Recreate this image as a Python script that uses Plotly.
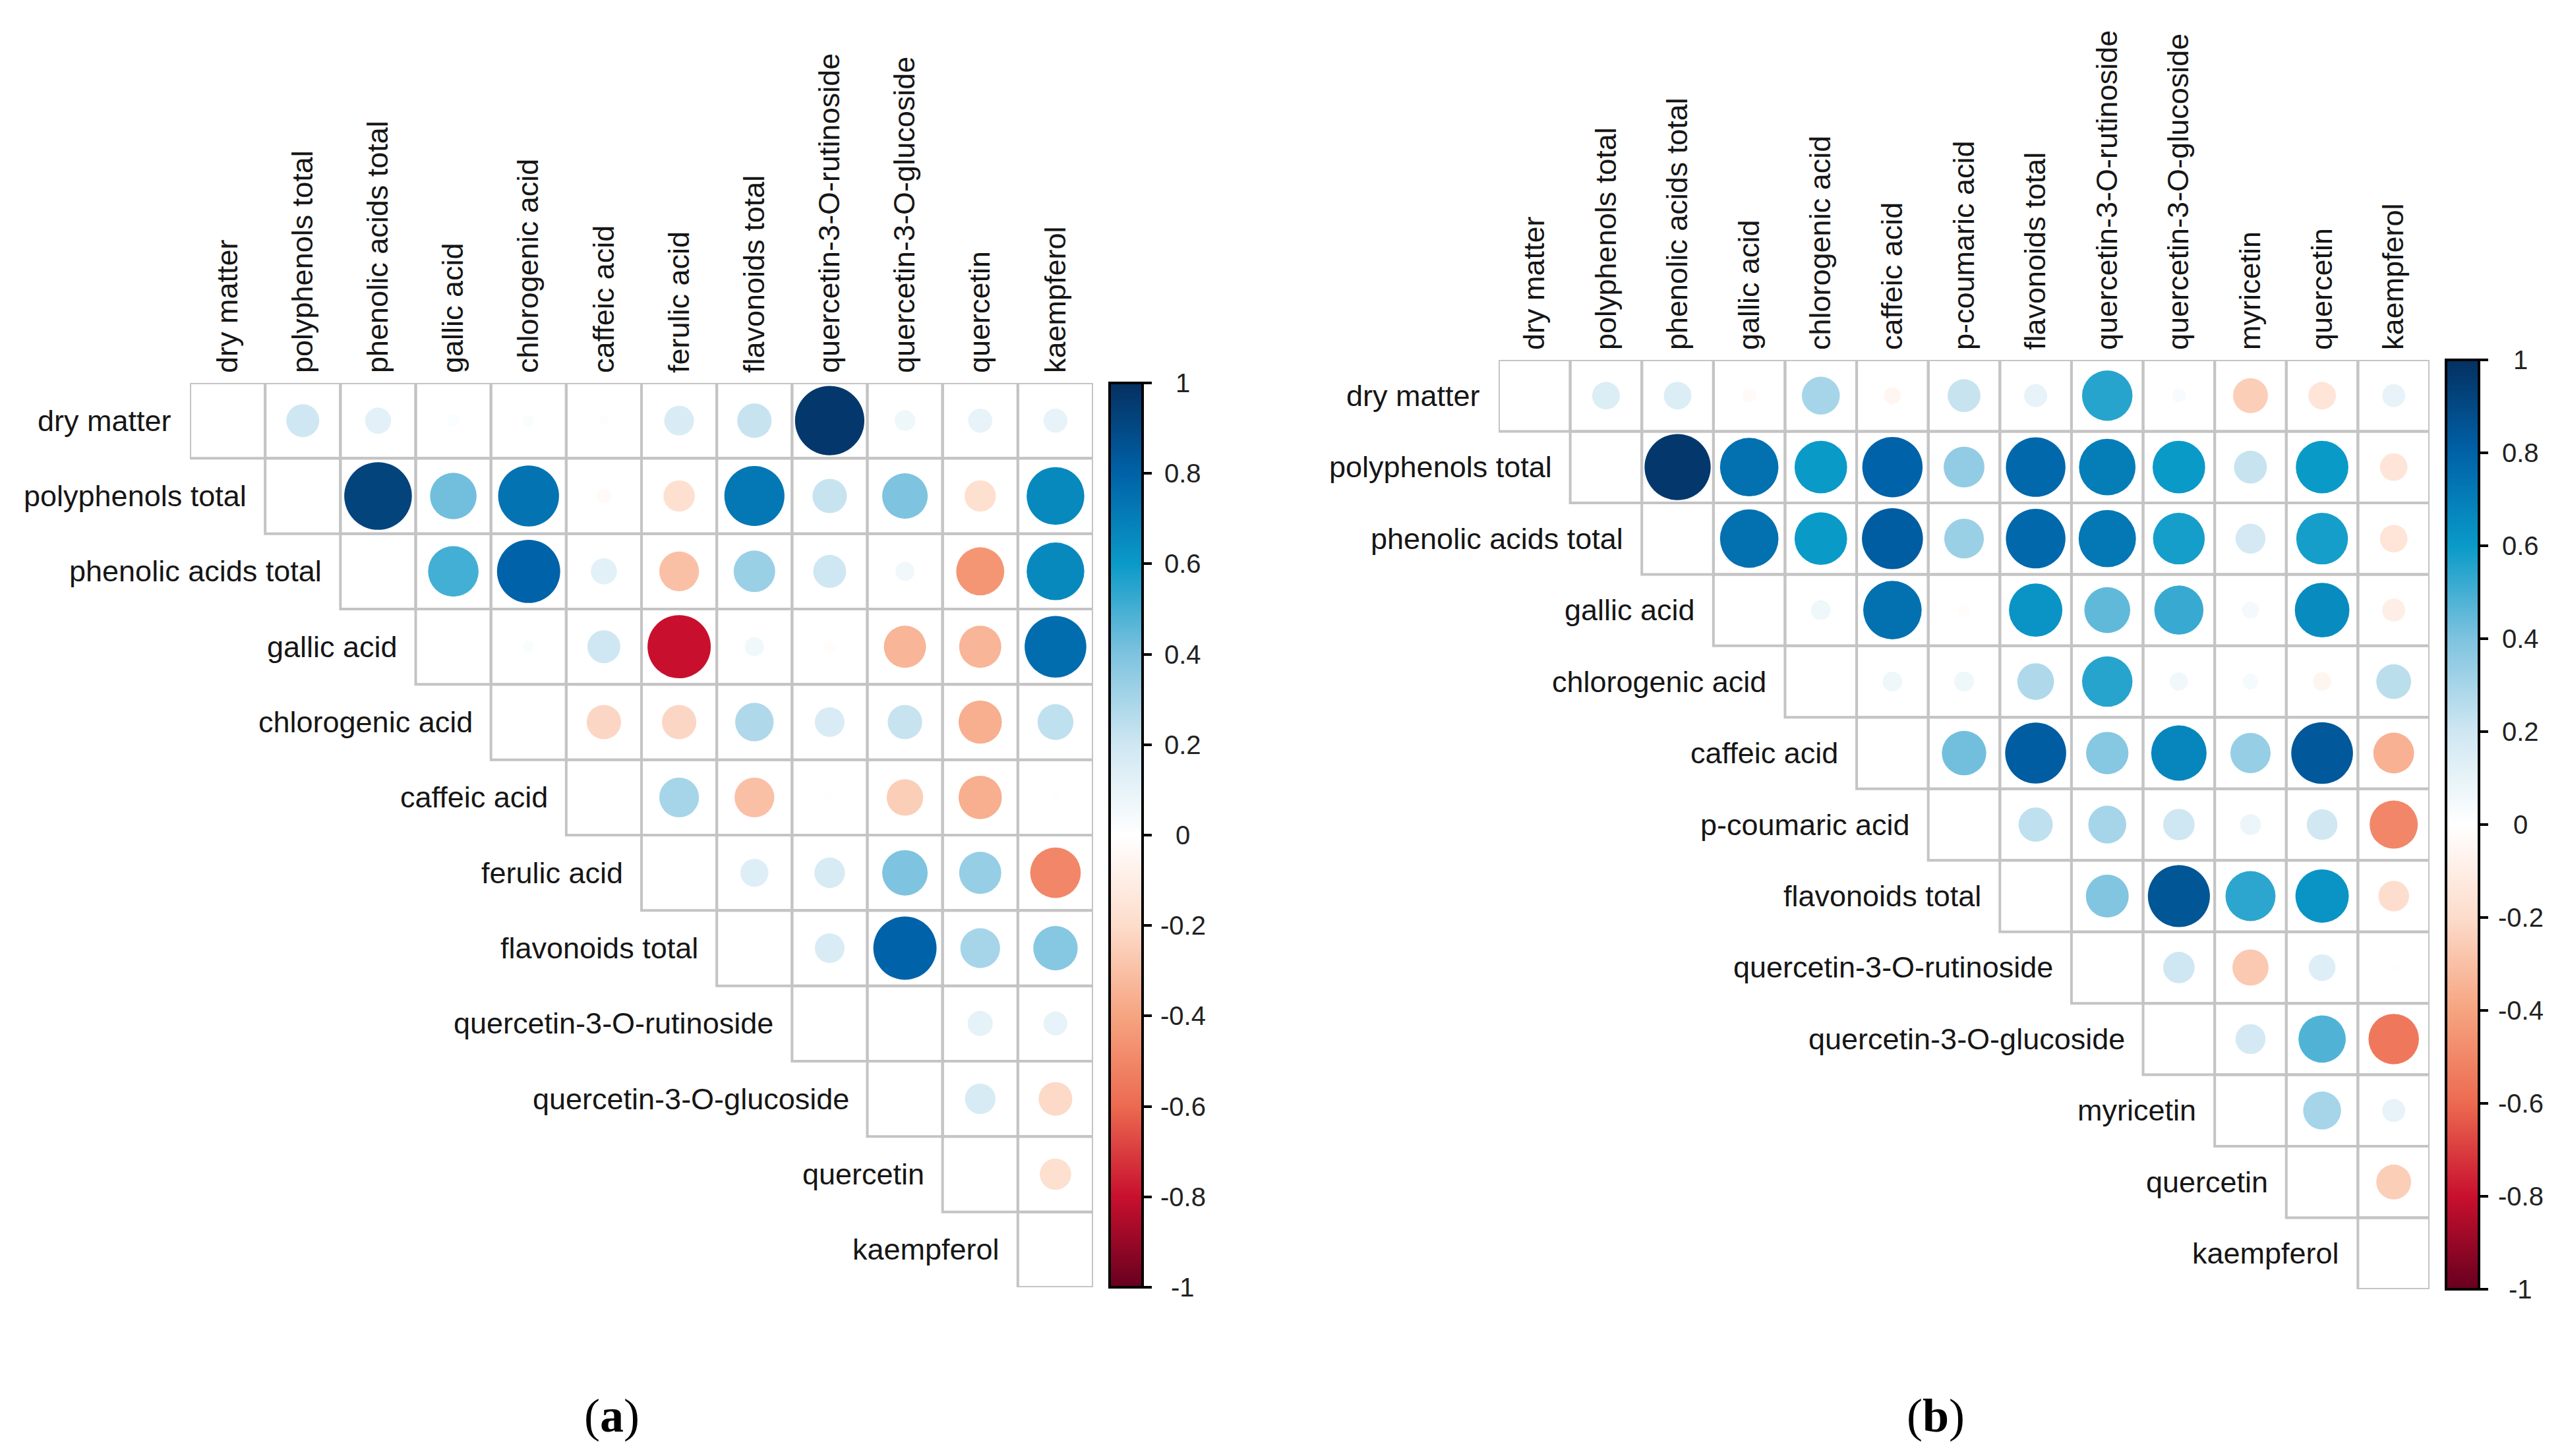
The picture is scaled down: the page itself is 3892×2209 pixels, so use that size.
import plotly.graph_objects as go
import math

# ---------------- data ----------------
names_a = ["dry matter", "polyphenols total", "phenolic acids total", "gallic acid",
           "chlorogenic acid", "caffeic acid", "ferulic acid", "flavonoids total",
           "quercetin-3-O-rutinoside", "quercetin-3-O-glucoside", "quercetin", "kaempferol"]
# upper triangle, row i holds correlations with columns i+1 .. n-1
corr_a = [
    [0.20, 0.12, 0.02, 0.02, -0.01, 0.16, 0.22, 0.97, 0.07, 0.10, 0.10],
    [0.92, 0.42, 0.74, -0.03, -0.18, 0.72, 0.22, 0.40, -0.18, 0.66],
    [0.50, 0.80, 0.12, -0.30, 0.33, 0.20, 0.06, -0.45, 0.66],
    [0.02, 0.20, -0.80, 0.06, -0.02, -0.34, -0.34, 0.76],
    [-0.22, -0.22, 0.28, 0.16, 0.22, -0.36, 0.24],
    [0.30, -0.30, 0.01, -0.25, -0.36, 0.01],
    [0.14, 0.17, 0.40, 0.34, -0.50],
    [0.16, 0.80, 0.30, 0.38],
    [0.01, 0.11, 0.10],
    [0.17, -0.21],
    [-0.18],
]

names_b = ["dry matter", "polyphenols total", "phenolic acids total", "gallic acid",
           "chlorogenic acid", "caffeic acid", "p-coumaric acid", "flavonoids total",
           "quercetin-3-O-rutinoside", "quercetin-3-O-glucoside", "myricetin",
           "quercetin", "kaempferol"]
corr_b = [
    [0.15, 0.15, -0.03, 0.30, -0.05, 0.22, 0.10, 0.55, 0.03, -0.25, -0.15, 0.10],
    [0.97, 0.75, 0.60, 0.80, 0.35, 0.78, 0.70, 0.60, 0.22, 0.60, -0.15],
    [0.75, 0.60, 0.82, 0.33, 0.78, 0.72, 0.58, 0.18, 0.58, -0.15],
    [0.07, 0.75, -0.02, 0.62, 0.45, 0.52, 0.05, 0.65, -0.10],
    [0.07, 0.07, 0.28, 0.55, 0.06, 0.04, -0.06, 0.25],
    [0.42, 0.82, 0.38, 0.67, 0.34, 0.84, -0.35],
    [0.24, 0.30, 0.20, 0.08, 0.19, -0.50],
    [0.39, 0.85, 0.54, 0.62, -0.19],
    [0.20, -0.27, 0.14, 0.01],
    [0.18, 0.48, -0.55],
    [0.30, 0.10],
    [-0.25],
]

bar_ticks = [1, 0.8, 0.6, 0.4, 0.2, 0, -0.2, -0.4, -0.6, -0.8, -1]
bar_labels = ["1", "0.8", "0.6", "0.4", "0.2", "0", "-0.2", "-0.4", "-0.6", "-0.8", "-1"]
captions = ["a", "b"]

# ---------------- style ----------------
W, H = 3892, 2209
colorscale = [
    [0.0, "#67001F"], [0.1, "#C8102E"], [0.2, "#EC6A50"], [0.3, "#F6A480"],
    [0.4, "#FDDCCB"], [0.5, "#FFFFFF"], [0.6, "#CFE7F2"], [0.7, "#7EC3DF"],
    [0.8, "#0A9AC8"], [0.9, "#0062A8"], [1.0, "#053061"],
]
FONT = "Liberation Sans"
GRID_COL = "#c4c4c4"

# panel geometry in pixels: (left, top, right, bottom) of grid, colorbar left, label centre, caption x
panels = [
    dict(names=names_a, corr=corr_a, grid=(280, 573, 1650, 1945), cb_x=1675, lab_x=1786, cap_x=920),
    dict(names=names_b, corr=corr_b, grid=(2265, 538, 3677, 1948), cb_x=3702, lab_x=3815, cap_x=2928),
]

fig = go.Figure()
shapes = []
annotations = []
layout_axes = {}

for k, p in enumerate(panels):
    names, corr = p["names"], p["corr"]
    n = len(names)
    gl, gt, gr, gb = p["grid"]
    cell_px = (gr - gl) / n
    xa = "x" if k == 0 else "x2"
    ya = "y" if k == 0 else "y2"
    xkey = "xaxis" if k == 0 else "xaxis2"
    ykey = "yaxis" if k == 0 else "yaxis2"
    ydom = [1 - gb / H, 1 - gt / H]

    xs, ys, vals, sizes = [], [], [], []
    for i, row in enumerate(corr):
        for m, v in enumerate(row):
            j = i + 1 + m
            xs.append(j + 1)
            ys.append(i + 1)
            vals.append(v)
            sizes.append(0.9 * math.sqrt(abs(v)) * cell_px + 4)

    fig.add_trace(go.Scatter(
        x=xs, y=ys, xaxis=xa, yaxis=ya, mode="markers",
        marker=dict(
            size=sizes, color=vals, colorscale=colorscale, cmin=-1, cmax=1,
            line=dict(width=0), opacity=1,
            showscale=True,
            colorbar=dict(
                x=p["cb_x"] / W, xanchor="left", xpad=0,
                y=ydom[0], yanchor="bottom", ypad=0,
                len=gb - gt, lenmode="pixels",
                thickness=50, thicknessmode="pixels",
                outlinewidth=4, outlinecolor="black",
                tickmode="array", tickvals=bar_ticks,
                ticks="outside", ticklen=12, tickwidth=4, tickcolor="black",
                showticklabels=False,
            ),
        ),
        hovertemplate="%{marker.color:.2f}<extra></extra>",
        showlegend=False,
    ))

    # grid boxes (upper triangle incl. diagonal)
    for i in range(n):
        for j in range(i, n):
            shapes.append(dict(
                type="rect", xref=xa, yref=ya,
                x0=j + 0.5, x1=j + 1.5, y0=i + 0.5, y1=i + 1.5,
                line=dict(color=GRID_COL, width=4), fillcolor="rgba(0,0,0,0)",
                layer="below",
            ))

    # row labels (staircase)
    for i, nm in enumerate(names):
        annotations.append(dict(
            x=i + 0.5, y=i + 1, xref=xa, yref=ya, text=nm, showarrow=False,
            xanchor="right", yanchor="middle", xshift=-26,
            font=dict(family=FONT, size=45, color="#161616"),
        ))

    # colorbar labels (centred like corrplot)
    for v, t in zip(bar_ticks, bar_labels):
        yp = ydom[0] + (v + 1) / 2 * (ydom[1] - ydom[0])
        annotations.append(dict(
            x=p["lab_x"] / W, y=yp, xref="paper", yref="paper", text=t,
            showarrow=False, xanchor="center", yanchor="middle",
            font=dict(family=FONT, size=40, color="#222222"),
        ))

    # caption
    annotations.append(dict(
        x=p["cap_x"] / W, y=1 - 2140 / H, xref="paper", yref="paper",
        text="(<b>" + captions[k] + "</b>)", showarrow=False,
        xanchor="center", yanchor="middle",
        font=dict(family="Liberation Serif", size=72, color="black"),
    ))

    layout_axes[xkey] = dict(
        domain=[gl / W, gr / W], range=[0.5, n + 0.5], side="top",
        anchor=ya, tickmode="array", tickvals=list(range(1, n + 1)), ticktext=names,
        tickangle=-90, tickfont=dict(family=FONT, size=45, color="#161616"),
        showgrid=False, zeroline=False, showline=False, ticks="",
        ticklabelstandoff=14, fixedrange=True,
    )
    layout_axes[ykey] = dict(
        domain=ydom, range=[n + 0.5, 0.5], anchor=xa,
        showticklabels=False, showgrid=False, zeroline=False, showline=False,
        ticks="", fixedrange=True,
    )

fig.update_layout(
    width=W, height=H, margin=dict(l=0, r=0, t=0, b=0),
    paper_bgcolor="white", plot_bgcolor="white",
    shapes=shapes, annotations=annotations, showlegend=False,
    **layout_axes,
)

fig.write_html("out.html")
